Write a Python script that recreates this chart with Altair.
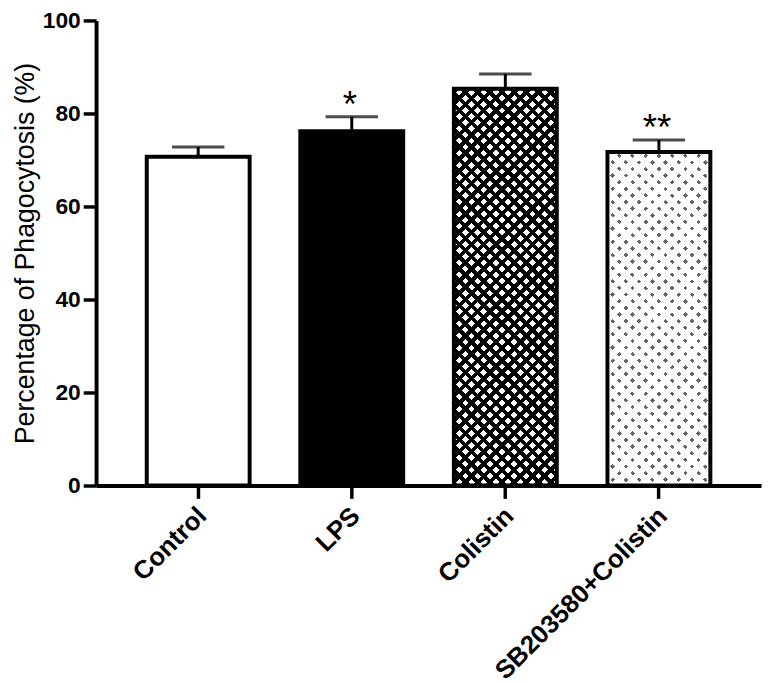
import altair as alt
import pandas as pd

categories = ["Control", "LPS", "Colistin", "SB203580+Colistin"]
means = [70.7, 76.2, 85.3, 71.7]
errors = [2.1, 3.1, 3.2, 2.6]
stars = ["", "*", "", "**"]
bar_fills = ["white", "black", "white", "white"]
y_ticks = [0, 20, 40, 60, 80, 100]

df = pd.DataFrame({"group": categories, "mean": means, "err": errors, "star": stars})
df["upper"] = df["mean"] + df["err"]

W, H = 672, 470
P_IN, P_OUT = 0.33, 0.33
step = W / (len(categories) - P_IN + 2 * P_OUT)
bw = step * (1 - P_IN)
FONT = "Liberation Sans"


def diag_grad(w, h, period, fraction, color, direction):
    """Hatch stripes at 45 degrees, built as a hard-stop linear gradient."""
    k = (w + h) / (h * (1 + (w / h) ** 2))
    n = int(round((w + h) / period))
    clear = "rgba(255,255,255,0)"
    stops = []
    for i in range(n):
        a = i / n
        b = (i + fraction) / n
        c = (i + 1) / n
        stops += [
            alt.GradientStop(offset=a, color=color),
            alt.GradientStop(offset=b, color=color),
            alt.GradientStop(offset=b, color=clear),
            alt.GradientStop(offset=c, color=clear),
        ]
    if direction == 1:
        return alt.LinearGradient(gradient="linear", x1=0, y1=0, x2=w / h * k, y2=k, stops=stops)
    return alt.LinearGradient(gradient="linear", x1=0, y1=1, x2=w / h * k, y2=1 - k, stops=stops)


h_col = means[2] / 100 * H
h_sb = means[3] / 100 * H

X = alt.X(
    "group:N",
    sort=categories,
    scale=alt.Scale(paddingInner=P_IN, paddingOuter=P_OUT),
    axis=alt.Axis(
        title=None,
        labelAngle=-45,
        labelAlign="right",
        labelBaseline="top",
        labelFontSize=26,
        labelFontWeight="bold",
        labelPadding=4,
        labelOffset=-5,
        labelLimit=0,
    ),
)
Y = alt.Y(
    "mean:Q",
    scale=alt.Scale(domain=[0, 100], nice=False),
    axis=alt.Axis(
        values=y_ticks,
        title="Percentage of Phagocytosis (%)",
        titleFontSize=27,
        titleFontWeight="normal",
        titlePadding=3,
        labelFontSize=23,
        labelFontWeight="bold",
        labelPadding=3,
    ),
)

base = alt.Chart(df).mark_bar(strokeWidth=0).encode(
    x=X,
    y=Y,
    fill=alt.Fill("group:N", scale=alt.Scale(domain=categories, range=bar_fills), legend=None),
)


def pattern(name, grad):
    return (
        alt.Chart(df)
        .transform_filter(alt.datum.group == name)
        .mark_bar(fill=grad, strokeWidth=0)
        .encode(x=X, y=Y)
    )


col1 = pattern("Colistin", diag_grad(bw, h_col, 12.3, 0.45, "black", 1))
col2 = pattern("Colistin", diag_grad(bw, h_col, 12.3, 0.45, "black", -1))
sb1 = pattern("SB203580+Colistin", diag_grad(bw, h_sb, 13.5, 0.36, "#666666", 1))
sb2 = pattern("SB203580+Colistin", diag_grad(bw, h_sb, 13.5, 0.66, "white", -1))

outline = alt.Chart(df).mark_bar(fill="white", fillOpacity=0, stroke="black", strokeWidth=4).encode(x=X, y=Y)

err = alt.Chart(df).mark_rule(color="black", strokeWidth=3).encode(x=X, y="mean:Q", y2="upper:Q")
cap = alt.Chart(df).mark_tick(color="black", thickness=3, size=53).encode(x=X, y="upper:Q")
txt = alt.Chart(df).mark_text(
    font=FONT, fontSize=37, baseline="alphabetic", dy=0, dx=-2, color="black"
).encode(x=X, y="upper:Q", text="star:N")

chart = (
    alt.layer(base, col1, col2, sb1, sb2, outline, err, cap, txt)
    .properties(
        width=W,
        height=H,
        autosize=alt.AutoSizeParams(type="none"),
        padding={"left": 89, "top": 9, "right": 3, "bottom": 196},
        background="white",
    )
    .configure_view(stroke=None)
    .configure_axis(
        grid=False,
        domainColor="black",
        domainWidth=4,
        tickColor="black",
        tickWidth=3.5,
        tickSize=13,
        labelColor="black",
        titleColor="black",
        labelFont=FONT,
        titleFont=FONT,
    )
)

chart.save("out.html", embed_options={"renderer": "svg", "actions": False})
